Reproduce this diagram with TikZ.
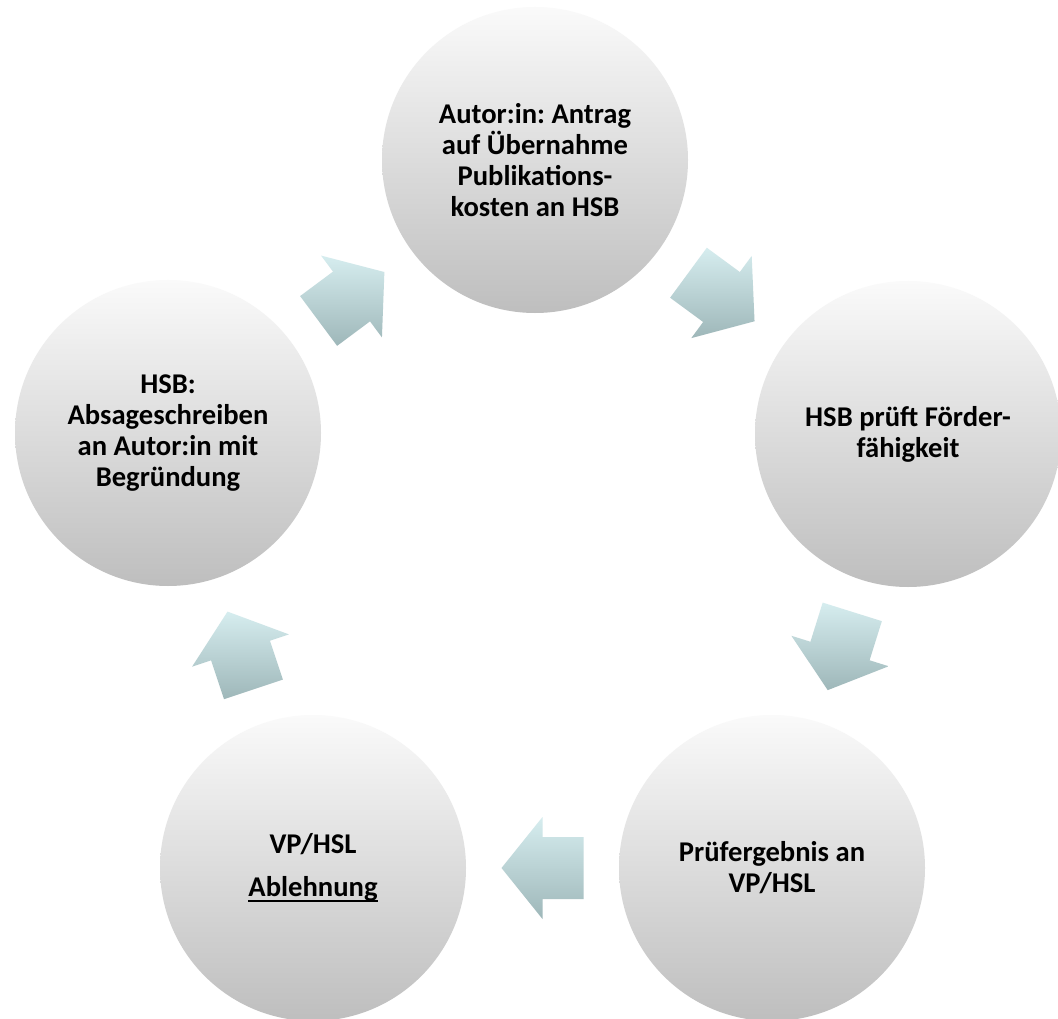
\documentclass[tikz,border=0pt]{standalone}
\usepackage{fontspec}
\setmainfont{Carlito}
\usetikzlibrary{calc}
\frenchspacing

\definecolor{stagetop}{RGB}{250,250,250}
\definecolor{stagebot}{RGB}{190,190,190}
\definecolor{arrowtop}{RGB}{214,237,239}
\definecolor{arrowbot}{RGB}{158,183,185}

\newcommand\ulword[1]{\setbox0\hbox{#1}\rlap{\rule[-0.2em]{\wd0}{0.07em}}\box0}

\tikzset{
  stage/.style={circle,minimum size=306pt,inner sep=0pt,align=center,
    top color=stagetop,bottom color=stagebot,
    font=\bfseries\fontsize{28.6}{31}\selectfont},
  cyclearrow/.style={top color=arrowtop,bottom color=arrowbot}
}

\begin{document}
\begin{tikzpicture}[x=1pt,y=-1pt]
\path[use as bounding box,fill=white] (0,0) rectangle (1058,1019);

% the five steps
\node[stage] (antrag) at (535,160) {Autor:in: Antrag\\auf Übernahme\\Publikations-\\kosten an HSB};
\node[stage] (pruef) at (908,434) {HSB prüft Förder-\\fähigkeit};
\node[stage] (ergebnis) at (772,868) {Prüfergebnis an\\VP/HSL};
\node[stage] (ablehnung) at (313,868) {VP/HSL\\[12pt]\ulword{Ablehnung}};
\node[stage] (absage) at (168,433) {HSB:\\Absageschreiben\\an Autor:in mit\\Begründung};

% block arrows between them
\foreach \a/\b in {antrag/pruef,pruef/ergebnis,ergebnis/ablehnung,ablehnung/absage,absage/antrag}{
  \coordinate (m) at ($(\a)!0.5!(\b)$);
  \coordinate (tip) at ($(m)!41pt!(\b)$);
  \coordinate (tail) at ($(m)!41pt!(\a)$);
  \path[cyclearrow] (tip) -- ($(m)!51pt!90:(\b)$) -- ($(m)!31pt!90:(\b)$)
    -- ($(tail)!31pt!90:(m)$) -- ($(tail)!31pt!-90:(m)$)
    -- ($(m)!31pt!-90:(\b)$) -- ($(m)!51pt!-90:(\b)$) -- cycle;
}
\end{tikzpicture}
\end{document}
